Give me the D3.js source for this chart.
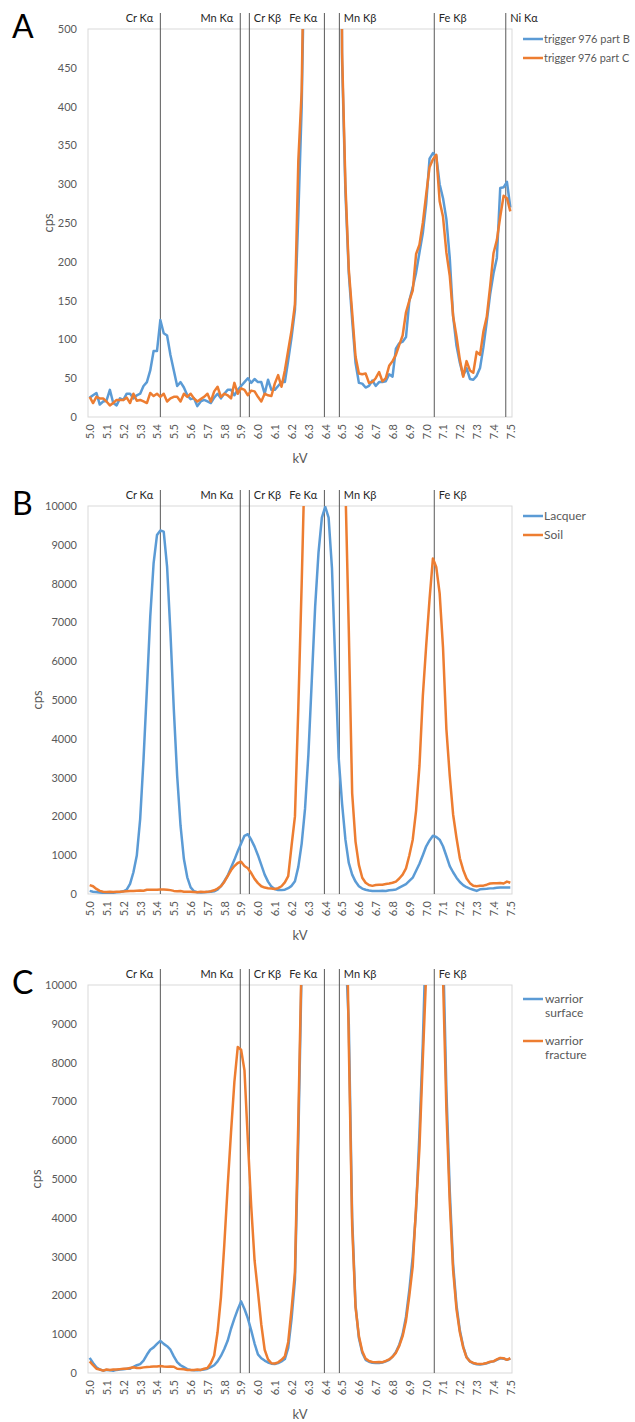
<!DOCTYPE html>
<html>
<head>
<meta charset="utf-8">
<script src="https://cdn.jsdelivr.net/npm/d3@7"></script>
<style>
  body { margin: 0; background: #fff; }
  text { font-family: Lato, "Liberation Sans", sans-serif; }
</style>
</head>
<body>
<svg id="chart" width="635" height="1422"></svg>
<script>
// channel energies (kV), 20 eV steps
const kV = [
  5.00,5.02,5.04,5.06,5.08,5.10,5.12,5.14,5.16,5.18,
  5.20,5.22,5.24,5.26,5.28,5.30,5.32,5.34,5.36,5.38,
  5.40,5.42,5.44,5.46,5.48,5.50,5.52,5.54,5.56,5.58,
  5.60,5.62,5.64,5.66,5.68,5.70,5.72,5.74,5.76,5.78,
  5.80,5.82,5.84,5.86,5.88,5.90,5.92,5.94,5.96,5.98,
  6.00,6.02,6.04,6.06,6.08,6.10,6.12,6.14,6.16,6.18,
  6.20,6.22,6.24,6.26,6.28,6.30,6.32,6.34,6.36,6.38,
  6.40,6.42,6.44,6.46,6.48,6.50,6.52,6.54,6.56,6.58,
  6.60,6.62,6.64,6.66,6.68,6.70,6.72,6.74,6.76,6.78,
  6.80,6.82,6.84,6.86,6.88,6.90,6.92,6.94,6.96,6.98,
  7.00,7.02,7.04,7.06,7.08,7.10,7.12,7.14,7.16,7.18,
  7.20,7.22,7.24,7.26,7.28,7.30,7.32,7.34,7.36,7.38,
  7.40,7.42,7.44,7.46,7.48,7.50
];

const xTicks = [5.0,5.1,5.2,5.3,5.4,5.5,5.6,5.7,5.8,5.9,6.0,6.1,6.2,6.3,6.4,
                6.5,6.6,6.7,6.8,6.9,7.0,7.1,7.2,7.3,7.4,7.5];
const yTicksA = [0,50,100,150,200,250,300,350,400,450,500];
const yTicksBC = [0,1000,2000,3000,4000,5000,6000,7000,8000,9000,10000];

// emission lines marked on the plots
const elementNames = ["Cr Kα","Mn Kα","Cr Kβ","Fe Kα","Mn Kβ","Fe Kβ","Ni Kα"];
const elementKv = [5.42, 5.895, 5.949, 6.395, 6.484, 7.048, 7.473];

// panel A
const namesA = ["trigger 976 part B", "trigger 976 part C"];
const triggerB = [
  25,28,31,16,20,21,35,18,15,24,
  22,30,30,24,28,30,40,45,60,85,
  85,125,108,105,80,60,40,45,38,28,
  23,24,14,20,22,20,18,25,30,24,
  30,35,35,28,35,40,45,50,44,49,
  45,45,30,48,35,35,40,45,45,73,
  103,138,260,400,650,1150,2400,4300,6500,8600,
  9400,8200,5600,2900,1300,460,290,185,125,70,
  44,43,38,40,47,40,45,45,46,55,
  52,88,95,97,103,150,167,186,212,237,
  275,333,340,336,300,282,255,205,130,92,
  70,53,63,49,48,53,63,90,123,158,
  185,205,295,296,303,270
];
const triggerC = [
  26,18,26,24,24,20,15,18,22,22,
  22,25,18,30,21,22,20,18,31,27,
  30,26,30,20,24,26,26,20,30,26,
  30,24,20,23,26,30,20,33,39,26,
  30,28,24,44,30,37,35,28,34,33,
  26,20,30,28,27,43,54,39,60,86,
  112,145,330,420,700,1200,2500,4400,6600,8700,
  9500,8300,5700,3000,1400,470,300,190,135,78,
  56,55,56,44,45,50,58,46,50,66,
  72,80,93,105,135,150,163,210,222,250,
  287,322,332,338,278,258,212,182,130,104,
  74,52,72,60,57,84,80,110,129,168,
  211,228,258,285,282,265
];

// panel B
const namesB = ["Lacquer", "Soil"];
const lacquer = [
  80,60,50,40,30,20,30,35,45,50,
  70,110,260,560,990,1930,3470,5270,7150,8530,
  9250,9370,9340,8440,6730,4760,3040,1760,900,430,
  170,70,45,40,45,50,55,70,110,200,
  330,470,680,880,1100,1300,1500,1540,1400,1220,
  1000,750,500,320,190,130,100,100,110,150,
  210,330,700,1300,2200,3600,5500,7400,8800,9700,
  9980,9700,8400,5900,3500,2330,1400,800,500,320,
  200,140,110,90,80,75,80,85,80,95,
  105,115,165,210,255,340,420,600,780,1000,
  1230,1380,1500,1470,1400,1230,980,720,560,420,
  310,230,175,140,110,80,120,130,135,145,
  150,160,170,165,170,170
];
const soil = [
  230,200,130,80,60,50,55,50,55,60,
  65,70,75,80,85,90,85,110,110,110,
  110,115,115,110,100,80,70,75,60,60,
  55,50,45,60,50,55,70,95,140,200,
  310,460,610,720,800,830,720,665,540,390,
  280,200,165,148,140,130,150,200,300,460,
  1250,2000,4800,8000,11500,16000,22000,28000,32000,34000,
  34000,32000,28000,22000,16000,13000,10500,6800,2600,1350,
  750,420,290,230,210,230,240,240,255,270,
  290,320,400,500,660,1000,1400,2150,3300,5100,
  6400,7600,8650,8420,7750,6350,4250,3050,2050,1450,
  920,620,400,280,215,200,210,215,240,270,
  280,280,285,270,320,290
];

// panel C
const namesC = ["warrior surface", "warrior fracture"];
const warriorSurface = [
  390,260,150,90,60,80,70,60,80,90,
  95,110,110,160,200,230,320,470,600,660,
  750,830,750,690,600,430,280,200,150,100,
  80,70,70,80,90,110,150,200,300,440,
  620,830,1140,1400,1640,1845,1650,1410,1100,760,
  480,380,320,270,240,230,255,300,360,650,
  1400,2400,6000,10500,14000,20000,27000,33000,37000,39000,
  39000,36000,30000,24000,18000,14000,11000,9000,4000,1750,
  900,520,340,290,265,255,260,270,300,340,
  420,540,730,1000,1450,2150,3000,4200,6200,8500,
  11500,15000,18000,18500,16000,11000,7300,4700,2800,1750,
  1100,680,410,300,250,225,220,230,250,280,
  300,340,380,370,340,370
];
const warriorFracture = [
  300,200,110,90,60,90,80,90,90,100,
  110,110,130,150,130,130,145,155,160,170,
  170,180,165,160,170,160,110,100,95,80,
  80,80,90,80,110,130,250,450,1050,1950,
  3300,4800,6200,7500,8400,8330,7800,6000,4300,2900,
  2100,1250,600,350,250,245,275,340,430,800,
  1650,2600,6500,10800,15000,22000,30000,36000,40000,42000,
  42000,38000,31000,25000,20000,17000,14000,8500,3800,1700,
  950,560,370,310,285,280,285,280,310,350,
  420,520,700,950,1350,2000,2750,4300,5800,8100,
  10300,14000,17000,17500,15000,10200,6800,4400,2650,1650,
  1050,660,400,300,260,240,230,240,260,290,
  300,350,390,380,340,380
];

const colors = ["#5B9BD5", "#ED7D31"];
const svg = d3.select("#chart");

const left = 88, right = 512, plotH = 388;
const x = d3.scaleLinear().domain([4.99, 7.51]).range([left, right]);

function drawPanel(id, letter, top, seriesList, names, yMax, yTicks, markers, cpsX, wrapLegend) {
  const bottom = top + plotH;
  const y = d3.scaleLinear().domain([0, yMax]).range([bottom, top]);
  const g = svg.append("g");

  g.append("clipPath").attr("id", "clip" + id)
    .append("rect").attr("x", left).attr("y", top)
    .attr("width", right - left).attr("height", plotH);

  // plot frame
  g.append("rect")
    .attr("x", left).attr("y", top)
    .attr("width", right - left).attr("height", plotH)
    .attr("fill", "none").attr("stroke", "#D9D9D9");

  // emission line markers
  const mk = g.selectAll("g.marker")
    .data(markers)
    .join("g").attr("class", "marker");
  mk.append("line")
    .attr("x1", d => x(elementKv[d])).attr("x2", d => x(elementKv[d]))
    .attr("y1", top - 16).attr("y2", bottom)
    .attr("stroke", "#595959").attr("stroke-width", 1);
  //labels sit left of Cr Kα / Mn Kα / Fe Kα lines, right of the others
  mk.append("text")
    .attr("x", d => [0, 1, 3].includes(d) ? x(elementKv[d]) - 7 : x(elementKv[d]) + 4.5)
    .attr("y", top - 7)
    .attr("text-anchor", d => [0, 1, 3].includes(d) ? "end" : "start")
    .attr("font-size", 11).attr("fill", "#262626")
    .text(d => elementNames[d]);

  // x axis
  const xa = g.append("g")
    .attr("transform", `translate(0,${bottom})`)
    .call(d3.axisBottom(x).tickValues(xTicks).tickFormat(d3.format(".1f")).tickSize(0).tickPadding(0));
  xa.select(".domain").remove();
  xa.selectAll("text")
    .attr("transform", "rotate(-90)")
    .attr("x", -7).attr("y", 0).attr("dy", "0.35em")
    .attr("text-anchor", "end")
    .attr("font-size", 11).attr("font-family", null).attr("fill", "#595959");

  // y axis
  const ya = g.append("g")
    .attr("transform", `translate(${left},0)`)
    .call(d3.axisLeft(y).tickValues(yTicks).tickFormat(d3.format("d")).tickSize(0).tickPadding(11));
  ya.select(".domain").remove();
  ya.selectAll("text")
    .attr("font-size", 11).attr("font-family", null).attr("fill", "#595959");

  // axis titles
  g.append("text")
    .attr("transform", `translate(${cpsX},${(top + bottom) / 2}) rotate(-90)`)
    .attr("text-anchor", "middle").attr("dy", "0.35em")
    .attr("font-size", 13).attr("fill", "#595959")
    .text("cps");
  g.append("text")
    .attr("x", (left + right) / 2).attr("y", bottom + 46)
    .attr("text-anchor", "middle")
    .attr("font-size", 13).attr("fill", "#595959")
    .text("kV");

  // spectra
  const line = d3.line()
    .x((d, i) => x(kV[i]))
    .y(d => y(d));
  g.append("g").attr("clip-path", `url(#clip${id})`)
    .selectAll("path")
    .data(seriesList)
    .join("path")
    .attr("d", line)
    .attr("fill", "none")
    .attr("stroke", (d, i) => colors[i])
    .attr("stroke-width", 2.5)
    .attr("stroke-linejoin", "round");

  // legend
  const first = wrapLegend ? 14 : 10, step = wrapLegend ? 42 : 19;
  const lg = g.selectAll("g.legend")
    .data(names)
    .join("g").attr("class", "legend")
    .attr("transform", (d, i) => `translate(523,${top + first + i * step})`);
  lg.append("line")
    .attr("x1", 0).attr("x2", 20)
    .attr("stroke", (d, i) => colors[i]).attr("stroke-width", 2.5);
  const lt = lg.append("text")
    .attr("x", 21)
    .attr("font-size", 12).attr("fill", "#595959");
  if (wrapLegend) {
    lt.selectAll("tspan")
      .data(d => d.split(" "))
      .join("tspan")
      .attr("x", 22)
      .attr("dy", (d, i) => i ? "1.15em" : "0.35em")
      .text(d => d);
  } else {
    lt.attr("dy", "0.35em").text(d => d);
    // shrink long names so they end before the page edge
    lt.each(function () {
      const w = this.getComputedTextLength();
      if (w > 86) d3.select(this).attr("font-size", Math.floor(12 * 86 / w * 10) / 10);
    });
  }

  // panel letter
  g.append("text")
    .attr("x", 12).attr("y", top + 9)
    .attr("font-size", 32)
    .attr("font-family", "'Liberation Sans', Arial, sans-serif")
    .attr("fill", "#000")
    .text(letter);
}

drawPanel("A", "A", 29, [triggerB, triggerC], namesA, 500, yTicksA, [0, 1, 2, 3, 4, 5, 6], 48, false);
drawPanel("B", "B", 506, [lacquer, soil], namesB, 10000, yTicksBC, [0, 1, 2, 3, 4, 5], 37, false);
drawPanel("C", "C", 985, [warriorSurface, warriorFracture], namesC, 10000, yTicksBC, [0, 1, 2, 3, 4, 5], 36, true);
</script>
</body>
</html>
